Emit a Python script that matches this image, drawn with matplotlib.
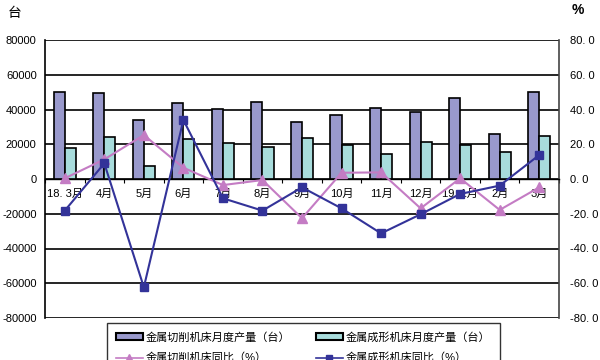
import matplotlib.pyplot as plt
from matplotlib.patches import Patch
from matplotlib.lines import Line2D
import numpy as np

plt.rcParams['font.family'] = ['Liberation Sans', 'Noto Sans CJK SC', 'DejaVu Sans']

# dados
meses = ['18. 3月', '4月', '5月', '6月', '7月', '8月', '9月', '10月', '11月', '12月', '19. 1月', '2月', '3月']
corte_qtd = [50000, 49600, 34200, 43600, 40200, 44400, 32600, 36800, 41000, 38700, 46600, 25900, 50000]
forma_qtd = [17700, 24200, 7700, 22800, 20900, 18200, 23400, 19400, 14400, 21100, 19400, 15400, 24700]
corte_pct = [0.4, 11.3, 25.3, 6.5, -3.5, -0.6, -22.6, 3.6, 3.8, -16.9, 0.4, -17.8, -4.8]
forma_pct = [-18.2, 9.0, -62.3, 34.0, -11.1, -18.2, -4.8, -16.9, -31.3, -20.3, -8.6, -3.8, 13.8]

esq_ticks = [80000, 60000, 40000, 20000, 0, -20000, -40000, -60000, -80000]
dir_rotulos = ['80. 0', '60. 0', '40. 0', '20. 0', '0. 0', '-20. 0', '-40. 0', '-60. 0', '-80. 0']

cor_corte = '#9999cc'
cor_forma = '#a8dcdc'
cor_lcorte = '#c47cc4'
cor_lforma = '#333399'

fig = plt.figure(figsize=(6, 3.6), dpi=100)
ax = fig.add_axes([45/600, 1-318/360, 514/600, 278/360])
x = np.arange(len(meses))
w = 0.28

ax.bar(x - w/2, corte_qtd, w, color=cor_corte, edgecolor='black', linewidth=1.2, zorder=3)
ax.bar(x + w/2, forma_qtd, w, color=cor_forma, edgecolor='black', linewidth=1.2, zorder=3)

ax.set_ylim(-80000, 80000)
ax.set_xlim(-0.5, len(meses) - 0.5)
ax.set_yticks(esq_ticks)
ax.set_yticklabels([str(v) for v in esq_ticks], fontsize=8)
ax.tick_params(axis='y', length=0, pad=6)
for v in esq_ticks:
    ax.axhline(v, color='black', linewidth=1.2, zorder=1)

ax.spines['top'].set_visible(False)
ax.spines['bottom'].set_position(('data', 0))
ax.spines['bottom'].set_linewidth(1.0)
ax.spines['left'].set_linewidth(1.2)
ax.spines['right'].set_linewidth(1.2)
ax.spines['right'].set_color('#444444')

ax.set_xticks(np.arange(len(meses) + 1) - 0.5)
ax.set_xticklabels([])
ax.tick_params(axis='x', direction='out', length=3, width=0.8)
ax.set_xticks(x, minor=True)
ax.set_xticklabels(meses, minor=True, fontsize=8)
ax.tick_params(axis='x', which='minor', length=0, pad=7)

ax2 = ax.twinx()
ax2.set_ylim(-80, 80)
ax2.set_yticks([80, 60, 40, 20, 0, -20, -40, -60, -80])
ax2.set_yticklabels(dir_rotulos, fontsize=8)
ax2.tick_params(axis='y', length=0, pad=8)
for s in ax2.spines.values():
    s.set_visible(False)
ax2.plot(x, corte_pct, color=cor_lcorte, marker='^', markersize=7, linewidth=1.5, zorder=4)
ax2.plot(x, forma_pct, color=cor_lforma, marker='s', markersize=6, linewidth=1.5, zorder=5)

fig.text(15/600, 1-13/360, '台', fontsize=10, ha='center', va='center')
fig.text(578/600, 1-10/360, '%', fontsize=10, ha='center', va='center', fontweight='bold')

handles = [
    Patch(facecolor=cor_corte, edgecolor='black', linewidth=1.5),
    Line2D([], [], color=cor_lcorte, marker='^', markersize=6, linewidth=1.2),
    Patch(facecolor=cor_forma, edgecolor='black', linewidth=1.5),
    Line2D([], [], color=cor_lforma, marker='s', markersize=5, linewidth=1.2),
]
labels = ['金属切削机床月度产量（台）', '金属切削机床同比（%）', '金属成形机床月度产量（台）', '金属成形机床同比（%）']
leg = fig.legend(handles, labels, loc='upper left', bbox_to_anchor=(107/600, 1-323/360), ncol=2,
                 fontsize=8, frameon=True, fancybox=False, edgecolor='black', handlelength=2.4,
                 handleheight=0.5, handletextpad=0.3, columnspacing=2.3, labelspacing=0.9,
                 borderpad=0.8, borderaxespad=0)
leg.get_frame().set_linewidth(1.0)

plt.savefig('out.png', dpi=100)
